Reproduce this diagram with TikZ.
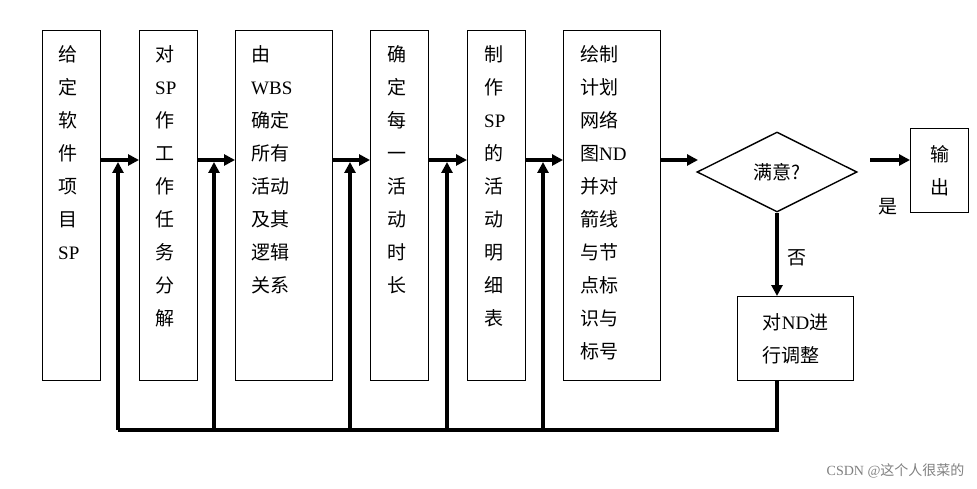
\documentclass[tikz,border=0pt]{standalone}
\usepackage{fontspec}
\setmainfont{Noto Sans CJK SC}
\newfontfamily\lat{Liberation Serif}
\usetikzlibrary{shapes.geometric,arrows.meta}
\begin{document}
\begin{tikzpicture}[x=1pt,y=-1pt,
 box/.style={draw,line width=1.4pt,inner sep=0},
 txt/.style={anchor=north west,align=left,font=\fontsize{19}{33}\selectfont,inner sep=0},
 fl/.style={line width=3.2pt},
 ar/.style={fl,-{Triangle[length=11pt,width=11pt]}}]
\useasboundingbox (0,0) rectangle (977,489);
\node[box,minimum width=58,minimum height=350,anchor=north west] (b1) at (42,30) {};
\node[box,minimum width=58,minimum height=350,anchor=north west] (b2) at (139,30) {};
\node[box,minimum width=97,minimum height=350,anchor=north west] (b3) at (235,30) {};
\node[box,minimum width=58,minimum height=350,anchor=north west] (b4) at (370,30) {};
\node[box,minimum width=58,minimum height=350,anchor=north west] (b5) at (467,30) {};
\node[box,minimum width=97,minimum height=350,anchor=north west] (b6) at (563,30) {};
\node[txt] (t1) at (58,45) {给\\定\\软\\件\\项\\目\\{\lat SP}};
\node[txt] (t2) at (155,45) {对\\{\lat SP}\\作\\工\\作\\任\\务\\分\\解};
\node[txt] (t3) at (251,45) {由\\{\lat WBS}\\确定\\所有\\活动\\及其\\逻辑\\关系};
\node[txt] (t4) at (387,45) {确\\定\\每\\一\\活\\动\\时\\长};
\node[txt] (t5) at (484,45) {制\\作\\{\lat SP}\\的\\活\\动\\明\\细\\表};
\node[txt] (t6) at (580,45) {绘制\\计划\\网络\\图{\lat ND}\\并对\\箭线\\与节\\点标\\识与\\标号};
\node[draw,line width=1.4pt,diamond,aspect=2,minimum width=160,minimum height=80,inner sep=0,font=\fontsize{19}{22}\selectfont] (d) at (777,172) {满意?};
\node[box,minimum width=58,minimum height=84,anchor=north west,align=center,font=\fontsize{19}{33}\selectfont] (out) at (910,128) {输\\出};
\node[box,minimum width=116,minimum height=84,anchor=north west,align=left,font=\fontsize{19}{33}\selectfont] (adj) at (737,296) {对{\lat ND}进\\行调整};
\node[font=\fontsize{19}{22}\selectfont] (yes) at (888,207) {是};
\node[font=\fontsize{19}{22}\selectfont] (no) at (797,258) {否};
\node[text=gray,font=\fontsize{14}{16}\selectfont,anchor=south east] (wm) at (968,482) {{\lat CSDN @}这个人很菜的};
\draw[ar] (b1.east|-0,160) -- (b2.west|-0,160);
\draw[ar] (b2.east|-0,160) -- (b3.west|-0,160);
\draw[ar] (b3.east|-0,160) -- (b4.west|-0,160);
\draw[ar] (b4.east|-0,160) -- (b5.west|-0,160);
\draw[ar] (b5.east|-0,160) -- (b6.west|-0,160);
\draw[ar] (b6.east|-0,160) -- (698,160);
\draw[ar] (870,160) -- (out.west|-0,160);
\draw[ar] (d.south) -- (d.south|-adj.north);
\coordinate (c0) at (118,430);
\coordinate (c5) at (777,430);
\draw[fl] (d.south|-adj.south) -- (c5) -- (c0);
\foreach \x in {118,214,350,447,543}{
 \coordinate (u\x) at (\x,430);
 \coordinate (v\x) at (\x,162);
 \draw[ar] (u\x) -- (v\x);}
\end{tikzpicture}
\end{document}
